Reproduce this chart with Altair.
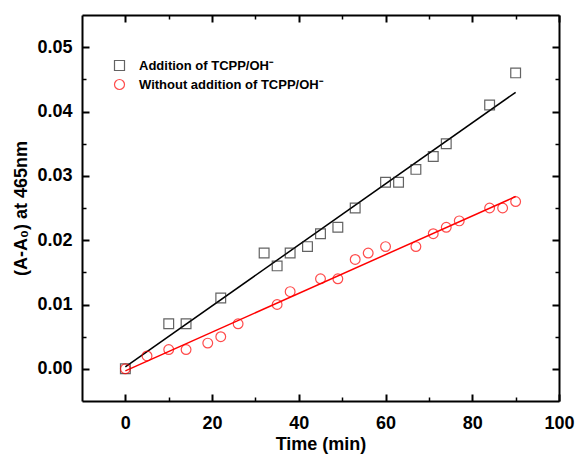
import altair as alt
import pandas as pd

# Series names
label_add = "Addition of TCPP/OH⁻"
label_wo = "Without addition of TCPP/OH⁻"

# Absorbance change vs time, with TCPP/OH- added
time_add = [0, 10, 14, 22, 32, 35, 38, 42, 45, 49, 53, 60, 63, 67, 71, 74, 84, 90]
val_add = [0.000, 0.007, 0.007, 0.011, 0.018, 0.016, 0.018, 0.019, 0.021, 0.022,
           0.025, 0.029, 0.029, 0.031, 0.033, 0.035, 0.041, 0.046]

# Absorbance change vs time, without TCPP/OH-
time_wo = [0, 5, 10, 14, 19, 22, 26, 35, 38, 45, 49, 53, 56, 60, 67, 71, 74, 77, 84, 87, 90]
val_wo = [0.000, 0.002, 0.003, 0.003, 0.004, 0.005, 0.007, 0.010, 0.012, 0.014, 0.014,
          0.017, 0.018, 0.019, 0.019, 0.021, 0.022, 0.023, 0.025, 0.025, 0.026]

# Axis tick values
x_major = [0, 20, 40, 60, 80, 100]
x_minor = [10, 30, 50, 70, 90]
y_major = [0.00, 0.01, 0.02, 0.03, 0.04, 0.05]
y_minor = [0.005, 0.015, 0.025, 0.035, 0.045]

df = pd.concat([
    pd.DataFrame({"time": time_add, "value": val_add, "series": label_add}),
    pd.DataFrame({"time": time_wo, "value": val_wo, "series": label_wo}),
], ignore_index=True)

W, H = 477, 386
FONT = "Liberation Sans"

x_scale = alt.Scale(domain=[-10, 100], nice=False, zero=False)
y_scale = alt.Scale(domain=[-0.005, 0.055], nice=False, zero=False)


def tick_axis(orient, offset, values, size, width, domain=False):
    # axis used only to draw inward-pointing ticks (and optionally a frame edge)
    return alt.Axis(orient=orient, offset=offset, values=values, tickSize=size,
                    tickWidth=width, tickColor="black", labels=False, grid=False,
                    domain=domain, domainColor="black", domainWidth=2)


main_x = alt.Axis(orient="bottom", values=x_major, ticks=False, grid=False,
                  labelFont=FONT, labelFontSize=18, labelFontWeight="bold",
                  labelColor="black", labelPadding=13, labelFlush=False,
                  titleFont=FONT, titleFontSize=18, titleFontWeight="bold",
                  titleColor="black", titlePadding=3,
                  domainColor="black", domainWidth=2)
main_y = alt.Axis(orient="left", values=y_major, ticks=False, grid=False, format=".2f",
                  labelFont=FONT, labelFontSize=18, labelFontWeight="bold",
                  labelColor="black", labelPadding=10, labelFlush=False,
                  titleFont=FONT, titleFontSize=18, titleFontWeight="bold",
                  titleColor="black", titlePadding=6,
                  domainColor="black", domainWidth=2)

legend = alt.Legend(orient="none", legendX=31, legendY=44, title=None, padding=0,
                    labelFont=FONT, labelFontSize=13, labelFontWeight="bold",
                    labelColor="black", labelOffset=13, rowPadding=4, labelLimit=400,
                    symbolSize=100, symbolStrokeWidth=1.2,
                    symbolFillColor="transparent")

points = alt.Chart(df).mark_point(filled=False, size=95, strokeWidth=1.2).encode(
    x=alt.X("time:Q", scale=x_scale, axis=main_x, title="Time (min)"),
    y=alt.Y("value:Q", scale=y_scale, axis=main_y, title="(A-A₀) at 465nm"),
    color=alt.Color("series:N", scale=alt.Scale(domain=[label_add, label_wo],
                                                range=["#222222", "red"]), legend=legend),
    shape=alt.Shape("series:N", scale=alt.Scale(domain=[label_add, label_wo],
                                                range=["square", "circle"]), legend=legend),
)

# Linear fit, with addition (major ticks on bottom and left edges)
fit_add = alt.Chart(df).transform_filter(
    alt.datum.series == label_add
).transform_regression("time", "value", extent=[0, 90]).mark_line(
    color="black", strokeWidth=1.5
).encode(
    x=alt.X("time:Q", scale=x_scale, title="", axis=tick_axis("top", -H, x_major, 7, 2)),
    y=alt.Y("value:Q", scale=y_scale, title="", axis=tick_axis("right", -W, y_major, 7, 2)),
)

# Linear fit, without addition (major ticks on top and right edges, frame)
fit_wo = alt.Chart(df).transform_filter(
    alt.datum.series == label_wo
).transform_regression("time", "value", extent=[0, 90]).mark_line(
    color="red", strokeWidth=1.5
).encode(
    x=alt.X("time:Q", scale=x_scale, title="",
            axis=tick_axis("bottom", -H, x_major, 7, 2, domain=True)),
    y=alt.Y("value:Q", scale=y_scale, title="",
            axis=tick_axis("left", -W, y_major, 7, 2, domain=True)),
)

# Minor ticks, bottom and left
minor_bl = alt.Chart(df).mark_point(opacity=0).encode(
    x=alt.X("time:Q", scale=x_scale, title="", axis=tick_axis("top", -H, x_minor, 4, 1.5)),
    y=alt.Y("value:Q", scale=y_scale, title="", axis=tick_axis("right", -W, y_minor, 4, 1.5)),
)

# Minor ticks, top and right
minor_tr = alt.Chart(df).mark_point(opacity=0).encode(
    x=alt.X("time:Q", scale=x_scale, title="", axis=tick_axis("bottom", -H, x_minor, 4, 1.5)),
    y=alt.Y("value:Q", scale=y_scale, title="", axis=tick_axis("left", -W, y_minor, 4, 1.5)),
)

chart = alt.layer(fit_add, fit_wo, minor_bl, minor_tr, points).resolve_axis(
    x="independent", y="independent"
).properties(
    width=W, height=H,
    autosize=alt.AutoSizeParams(type="none"),
    padding={"left": 82, "top": 15, "right": 20, "bottom": 57},
    background="white",
).configure_view(stroke=None)

chart.save("out.html", embed_options={"renderer": "svg", "actions": False})
